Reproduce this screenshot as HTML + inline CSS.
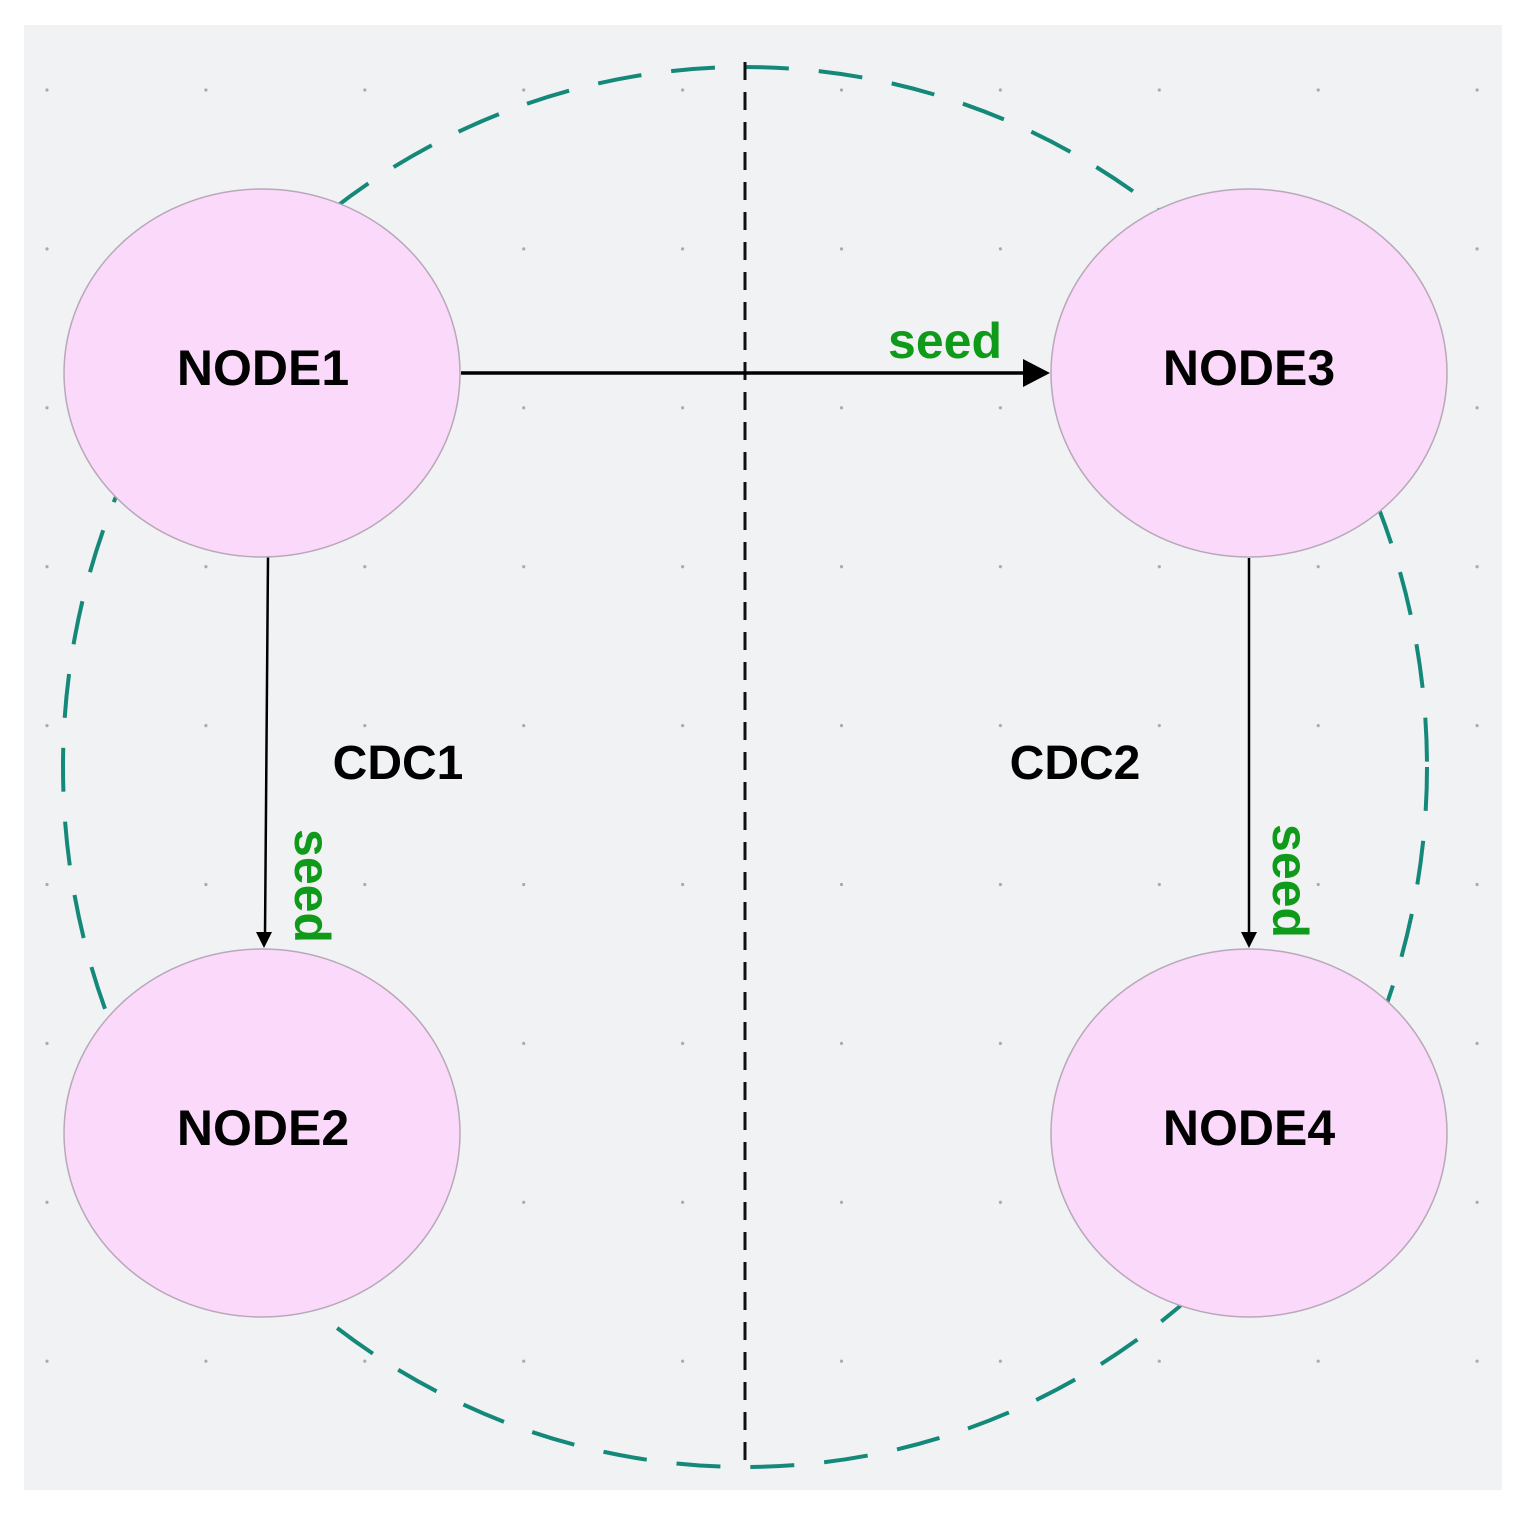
<!DOCTYPE html>
<html><head><meta charset="utf-8"><style>
html,body{margin:0;padding:0;background:#fff;}
svg{display:block;}
text{font-family:"Liberation Sans",Arial,sans-serif;font-weight:bold;}
</style></head><body>
<svg width="1520" height="1517" viewBox="0 0 1520 1517" xmlns="http://www.w3.org/2000/svg">
<defs>
<pattern id="dots" x="47" y="90" width="158.9" height="158.9" patternUnits="userSpaceOnUse">
<circle cx="0" cy="0" r="1.6" fill="#aaa"/><circle cx="158.9" cy="0" r="1.6" fill="#aaa"/><circle cx="0" cy="158.9" r="1.6" fill="#aaa"/><circle cx="158.9" cy="158.9" r="1.6" fill="#aaa"/>
</pattern>
</defs>
<rect x="24" y="25" width="1478" height="1465" fill="#f1f2f4"/>
<rect x="40" y="85" width="1450" height="1290" fill="url(#dots)"/>
<ellipse cx="745" cy="767" rx="682" ry="700" fill="none" stroke="#14897a" stroke-width="4" stroke-dasharray="44 30"/>
<line x1="745" y1="62" x2="745" y2="1472" stroke="#111" stroke-width="3" stroke-dasharray="18 12"/>
<line x1="461" y1="373" x2="1025" y2="373" stroke="#000" stroke-width="3.5"/>
<polygon points="1050,373 1023,359 1023,387" fill="#000"/>
<line x1="268" y1="557" x2="265" y2="935" stroke="#000" stroke-width="2.5"/>
<polygon points="264,948 256,932 272,932" fill="#000"/>
<line x1="1249" y1="558" x2="1249" y2="935" stroke="#000" stroke-width="2.5"/>
<polygon points="1249,948 1241,932 1257,932" fill="#000"/>
<g fill="#fbd9fb" stroke="#b8a8b8" stroke-width="1.5">
<ellipse cx="262" cy="373" rx="198" ry="184"/>
<ellipse cx="1249" cy="373" rx="198" ry="184"/>
<ellipse cx="262" cy="1133" rx="198" ry="184"/>
<ellipse cx="1249" cy="1133" rx="198" ry="184"/>
</g>
<g font-size="50" fill="#000" text-anchor="middle">
<text x="263" y="385">NODE1</text>
<text x="1249" y="385">NODE3</text>
<text x="263" y="1145">NODE2</text>
<text x="1249" y="1145">NODE4</text>
<text x="398" y="779" font-size="48">CDC1</text>
<text x="1075" y="779" font-size="48">CDC2</text>
</g>
<g font-size="50" fill="#109a1a" text-anchor="middle">
<text x="945" y="358">seed</text>
<text transform="translate(312,886) rotate(90)" x="0" y="17">seed</text>
<text transform="translate(1290,881) rotate(90)" x="0" y="17">seed</text>
</g>
</svg>
</body></html>
